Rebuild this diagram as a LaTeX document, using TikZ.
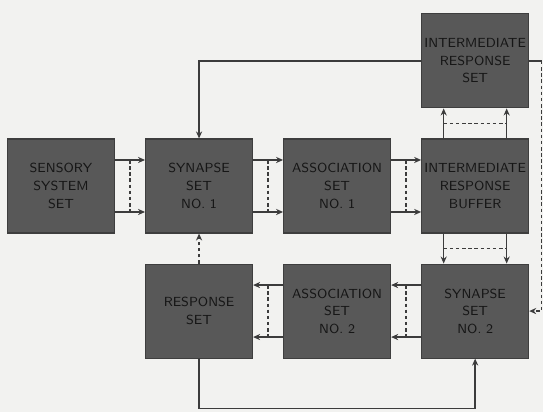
\documentclass[tikz,border=0pt]{standalone}
\usepackage{xcolor}
\usepackage{tikz}
\usetikzlibrary{arrows.meta, positioning}
\definecolor{boxgray}{RGB}{88,88,88}
\definecolor{boxedge}{RGB}{62,62,62}
\definecolor{boxtext}{RGB}{22,22,22}
\definecolor{linegray}{RGB}{60,60,60}
\definecolor{paper}{RGB}{242,242,240}
\tikzset{
  setbox/.style={rectangle, draw=boxedge, fill=boxgray,
    minimum width=2.14cm, minimum height=1.88cm, inner xsep=0.5pt, align=center,
    font=\sffamily\fontsize{7.5}{10}\selectfont, text=boxtext, line width=0.6pt},
  arrow/.style={-{Stealth[length=4pt,width=3.5pt]}, line width=0.8pt, color=linegray},
  dline/.style={line width=0.8pt, color=linegray, dash pattern=on 2pt off 1.5pt},
  line/.style={line width=0.8pt, color=linegray}
}

\begin{document}
\begin{tikzpicture}[node distance=0.6cm and 0.6cm]
  \fill[paper] (-1.22,-4.52) rectangle (9.64,3.72);
  \useasboundingbox (-1.22,-4.52) rectangle (9.64,3.72);

  % Upper row
  \node[setbox] (sens) {SENSORY\\SYSTEM\\SET};
  \node[setbox, right=of sens] (syn1) {SYNAPSE\\SET\\NO. 1};
  \node[setbox, right=of syn1] (asc1) {ASSOCIATION\\SET\\NO. 1};
  \node[setbox, right=of asc1] (buf) {INTERMEDIATE\\RESPONSE\\BUFFER};
  \node[setbox, above=of buf] (irs) {INTERMEDIATE\\RESPONSE\\SET};

  % Lower row
  \node[setbox, below=of buf] (syn2) {SYNAPSE\\SET\\NO. 2};
  \node[setbox, left=of syn2] (asc2) {ASSOCIATION\\SET\\NO. 2};
  \node[setbox, left=of asc2] (resp) {RESPONSE\\SET};

  % Paired links, upper row
  \draw[arrow] ([yshift=0.52cm]sens.east) -- ([yshift=0.52cm]syn1.west);
  \draw[arrow] ([yshift=-0.52cm]sens.east) -- ([yshift=-0.52cm]syn1.west);
  \draw[dline] ([xshift=0.3cm,yshift=0.52cm]sens.east) -- ([xshift=0.3cm,yshift=-0.52cm]sens.east);
  \draw[arrow] ([yshift=0.52cm]syn1.east) -- ([yshift=0.52cm]asc1.west);
  \draw[arrow] ([yshift=-0.52cm]syn1.east) -- ([yshift=-0.52cm]asc1.west);
  \draw[dline] ([xshift=0.3cm,yshift=0.52cm]syn1.east) -- ([xshift=0.3cm,yshift=-0.52cm]syn1.east);
  \draw[arrow] ([yshift=0.52cm]asc1.east) -- ([yshift=0.52cm]buf.west);
  \draw[arrow] ([yshift=-0.52cm]asc1.east) -- ([yshift=-0.52cm]buf.west);
  \draw[dline] ([xshift=0.3cm,yshift=0.52cm]asc1.east) -- ([xshift=0.3cm,yshift=-0.52cm]asc1.east);

  % Buffer up and down
  \draw[arrow] ([xshift=-0.63cm]buf.north) -- ([xshift=-0.63cm]irs.south);
  \draw[arrow] ([xshift=0.63cm]buf.north) -- ([xshift=0.63cm]irs.south);
  \draw[dline] ([xshift=-0.63cm,yshift=0.3cm]buf.north) -- ([xshift=0.63cm,yshift=0.3cm]buf.north);
  \draw[arrow] ([xshift=-0.63cm]buf.south) -- ([xshift=-0.63cm]syn2.north);
  \draw[arrow] ([xshift=0.63cm]buf.south) -- ([xshift=0.63cm]syn2.north);
  \draw[dline] ([xshift=-0.63cm,yshift=-0.3cm]buf.south) -- ([xshift=0.63cm,yshift=-0.3cm]buf.south);

  % Paired links, lower row
  \draw[arrow] ([yshift=0.52cm]syn2.west) -- ([yshift=0.52cm]asc2.east);
  \draw[arrow] ([yshift=-0.52cm]syn2.west) -- ([yshift=-0.52cm]asc2.east);
  \draw[dline] ([xshift=-0.3cm,yshift=0.52cm]syn2.west) -- ([xshift=-0.3cm,yshift=-0.52cm]syn2.west);
  \draw[arrow] ([yshift=0.52cm]asc2.west) -- ([yshift=0.52cm]resp.east);
  \draw[arrow] ([yshift=-0.52cm]asc2.west) -- ([yshift=-0.52cm]resp.east);
  \draw[dline] ([xshift=-0.3cm,yshift=0.52cm]asc2.west) -- ([xshift=-0.3cm,yshift=-0.52cm]asc2.west);

  % Feedback paths
  \draw[arrow] (irs.west) -| (syn1.north);
  \draw[line] (irs.east) -- ++(0.25,0) coordinate (fbtop);
  \draw[arrow, dash pattern=on 2pt off 1.5pt] (fbtop) |- (syn2.east);
  \draw[arrow, dash pattern=on 2pt off 1.5pt] (resp.north) -- (syn1.south);
  \draw[arrow] (resp.south) -- ++(0,-1.0) -| (syn2.south);
\end{tikzpicture}
\end{document}
